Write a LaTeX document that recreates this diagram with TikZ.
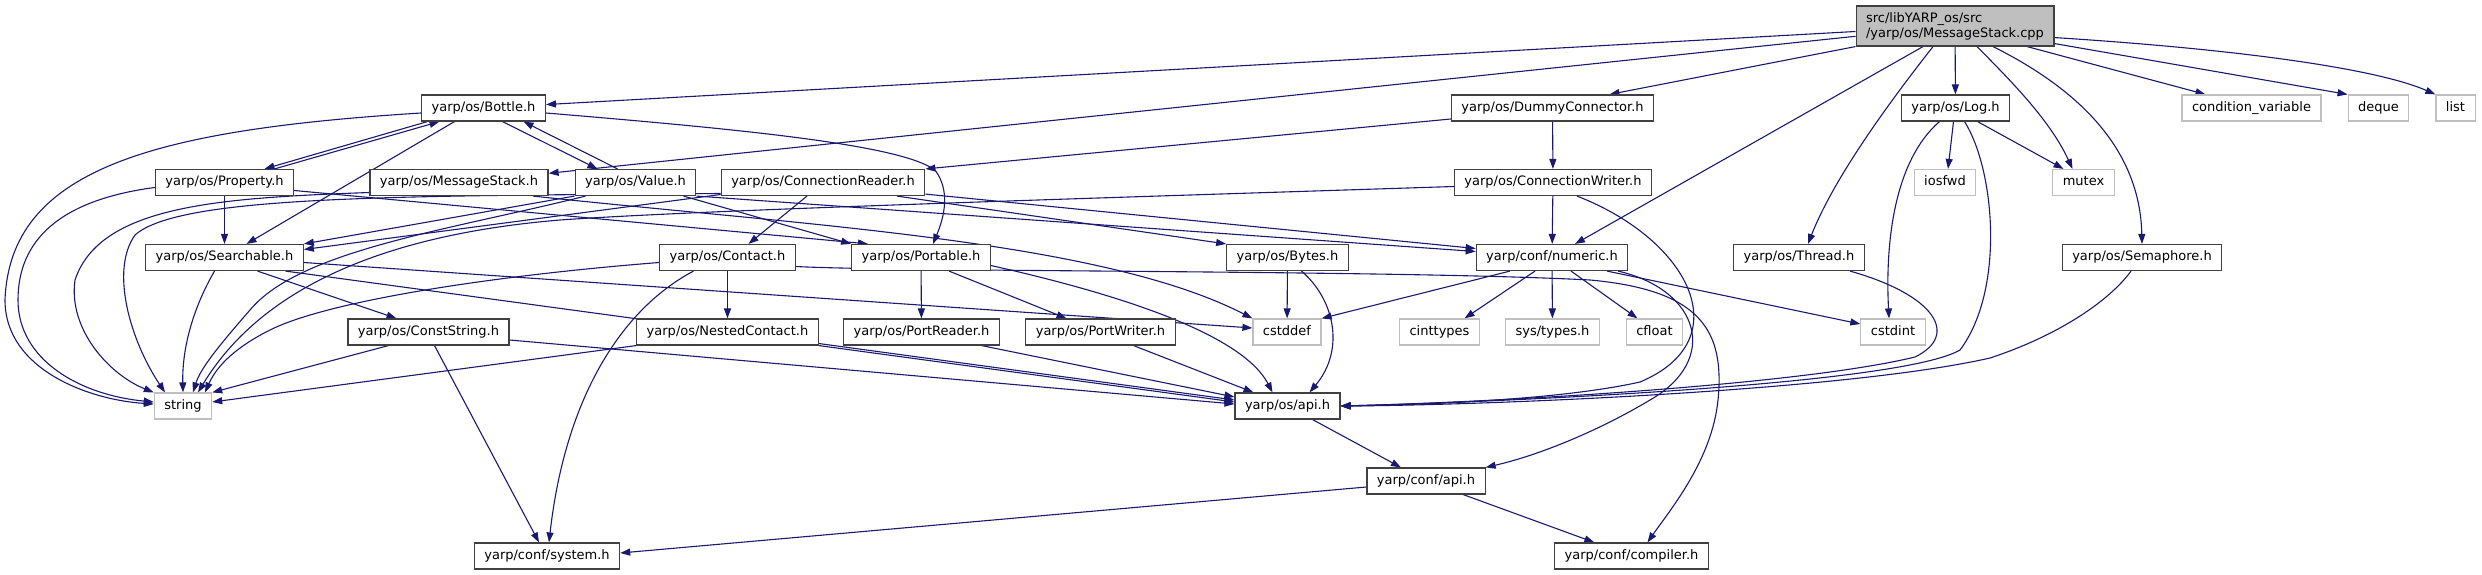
\documentclass[tikz,border=0pt]{standalone}
\usepackage{fontspec}
\setmainfont{DejaVu Sans}
\usetikzlibrary{arrows.meta}
\definecolor{edgeblue}{HTML}{191970}
\definecolor{boxline}{HTML}{404040}
\definecolor{sysline}{HTML}{BFBFBF}
\definecolor{rootfill}{HTML}{BFBFBF}
\pgfdeclarelayer{edges}
\pgfsetlayers{edges,main}

\begin{document}
\begin{tikzpicture}[x=1pt, y=-1pt, >={Triangle[length=10pt,width=7pt]},
    hdr/.style={draw=boxline, fill=white, line width=1.15pt, rectangle, font=\fontsize{13}{15}\selectfont,
      inner xsep=10pt, inner ysep=0pt, minimum height=26pt, text height=9.5pt, text depth=2.7pt},
    sys/.style={hdr, draw=sysline},
    root/.style={draw=boxline, fill=rootfill, line width=1.15pt, rectangle, align=left,
      font=\fontsize{13}{15}\selectfont, inner xsep=10pt, minimum height=40pt},
    dep/.style={->, color=edgeblue, line width=1.1pt}]

  \useasboundingbox (0,0) rectangle (2482,575);

  % row 0 and 1
  \node[root] (cpp) at (1955,26) {src/libYARP\_os/src\\/yarp/os/MessageStack.cpp};
  \node[hdr] (bottle) at (483.5,108) {yarp/os/Bottle.h};
  \node[hdr] (dummy) at (1552.5,108) {yarp/os/DummyConnector.h};
  \node[hdr] (log) at (1955.5,108) {yarp/os/Log.h};
  \node[sys] (condvar) at (2251.5,108) {condition\_variable};
  \node[sys] (deque) at (2378.5,108) {deque};
  \node[sys] (list) at (2455.5,108) {list};

  % row 2
  \node[hdr] (property) at (224.5,182.5) {yarp/os/Property.h};
  \node[hdr] (msgh) at (459,182.5) {yarp/os/MessageStack.h};
  \node[hdr] (value) at (635.5,182.5) {yarp/os/Value.h};
  \node[hdr] (creader) at (823,182.5) {yarp/os/ConnectionReader.h};
  \node[hdr] (cwriter) at (1553,182.5) {yarp/os/ConnectionWriter.h};
  \node[sys] (iosfwd) at (1945,182.5) {iosfwd};
  \node[sys] (mutex) at (2083.5,182.5) {mutex};

  % row 3
  \node[hdr] (searchable) at (224.5,257.5) {yarp/os/Searchable.h};
  \node[hdr] (contact) at (727.5,257.5) {yarp/os/Contact.h};
  \node[hdr] (portable) at (921,257.5) {yarp/os/Portable.h};
  \node[hdr] (bytes) at (1287.5,257.5) {yarp/os/Bytes.h};
  \node[hdr] (numeric) at (1552,257.5) {yarp/conf/numeric.h};
  \node[hdr] (thread) at (1799,257.5) {yarp/os/Thread.h};
  \node[hdr] (sema) at (2142,257.5) {yarp/os/Semaphore.h};

  % row 4
  \node[hdr] (conststr) at (428.5,332) {yarp/os/ConstString.h};
  \node[hdr] (nested) at (727.5,332) {yarp/os/NestedContact.h};
  \node[hdr] (preader) at (921.5,332) {yarp/os/PortReader.h};
  \node[hdr] (pwriter) at (1100.5,332) {yarp/os/PortWriter.h};
  \node[sys] (cstddef) at (1287,332) {cstddef};
  \node[sys] (cinttypes) at (1439.5,332) {cinttypes};
  \node[sys] (systypes) at (1552.5,332) {sys/types.h};
  \node[sys] (cfloat) at (1654.5,332) {cfloat};
  \node[sys] (cstdint) at (1893,332) {cstdint};

  % rows 5 to 7
  \node[sys] (string) at (183,406) {string};
  \node[hdr] (osapi) at (1287.5,406) {yarp/os/api.h};
  \node[hdr] (confapi) at (1426,481) {yarp/conf/api.h};
  \node[hdr] (system) at (547,556) {yarp/conf/system.h};
  \node[hdr] (compiler) at (1631.5,556) {yarp/conf/compiler.h};

  \begin{pgfonlayer}{edges}
  % MessageStack.cpp
  \draw[dep] (cpp) -- (bottle);
  \draw[dep] (cpp) -- (msgh);
  \draw[dep] (cpp.south west) -- ([xshift=57pt]dummy.north);
  \draw[dep] ([xshift=-32pt]cpp.south) -- ([xshift=23pt]numeric.north);
  \draw[dep] ([xshift=-22pt]cpp.south) .. controls (1895,95) and (1835,175) .. ([xshift=9pt]thread.north);
  \draw[dep] (cpp) -- (log);
  \draw[dep] ([xshift=22pt]cpp.south) .. controls (2010,80) and (2050,120) .. ([xshift=-11pt]mutex.north);
  \draw[dep] ([xshift=38pt]cpp.south) .. controls (2080,90) and (2140,150) .. (sema.north);
  \draw[dep] ([xshift=72pt]cpp.south) -- ([xshift=-46pt]condvar.north);
  \draw[dep] ([yshift=3pt]cpp.south east) -- (deque.north west);
  \draw[dep] ([yshift=9pt]cpp.south east) .. controls (2250,50) and (2380,70) .. (list.north west);

  % Bottle.h
  \draw[dep] ([yshift=-5pt]bottle.west) .. controls (150,130) and (10,170) .. (5,300)
    .. controls (5,370) and (90,400) .. ([yshift=2pt]string.west);
  \draw[dep] ([xshift=-56pt]bottle.south) -- ([xshift=40pt]property.north);
  \draw[dep] ([xshift=-29pt]bottle.south) -- ([xshift=22pt]searchable.north);
  \draw[dep] ([xshift=19pt]bottle.south) -- ([xshift=-38pt]value.north);
  \draw[dep] ([yshift=-5pt]bottle.east) .. controls (750,130) and (900,145) .. (935,170)
    .. controls (950,190) and (945,215) .. ([xshift=12pt]portable.north);

  % Property.h
  \draw[dep] ([xshift=50pt]property.north) -- ([xshift=-44pt]bottle.south);
  \draw[dep] (property) -- (searchable);
  \draw[dep] ([yshift=-5pt]property.west) .. controls (60,200) and (18,240) .. (18,300)
    .. controls (18,360) and (80,395) .. ([yshift=4pt]string.west);
  \draw[dep] ([yshift=-8pt]property.east) -- ([xshift=-53pt]portable.north);

  % MessageStack.h
  \draw[dep] ([yshift=-10pt]msgh.west) .. controls (220,198) and (100,205) .. (75,280)
    .. controls (68,330) and (110,375) .. (string.north west);
  \draw[dep] ([xshift=74pt]msgh.south) .. controls (800,225) and (1100,240) .. (cstddef.north west);

  % Value.h
  \draw[dep] ([xshift=-18pt]value.north) -- ([xshift=40pt]bottle.south);
  \draw[dep] (value.south west) -- (searchable.north east);
  \draw[dep] ([xshift=48pt]value.south) -- (portable.north west);
  \draw[dep] (value.south east) -- ([yshift=6pt]numeric.west);
  \draw[dep] ([xshift=-50pt]value.south) .. controls (450,230) and (300,250) .. (250,310)
    .. controls (215,350) and (200,370) .. ([xshift=10pt]string.north);

  % ConnectionReader.h
  \draw[dep] ([xshift=-16pt]creader.south) -- ([xshift=21pt]contact.north);
  \draw[dep] ([yshift=-12pt]creader.west) -- ([yshift=8pt]searchable.east);
  \draw[dep] ([xshift=74pt]creader.south) -- (bytes.north west);
  \draw[dep] ([yshift=2pt]creader.south east) -- ([yshift=9pt]numeric.west);
  \draw[dep] ([yshift=-11pt]creader.west) .. controls (400,196) and (180,195) .. (135,235)
    .. controls (110,270) and (130,340) .. ([xshift=-18pt]string.north);

  % Contact.h
  \draw[dep] ([yshift=-5pt]contact.west) .. controls (500,275) and (330,300) .. (270,330)
    .. controls (230,350) and (215,370) .. ([xshift=22pt]string.north);
  \draw[dep] (contact) -- (nested);
  \draw[dep] ([xshift=-34pt]contact.south) .. controls (620,310) and (565,400) .. ([xshift=2pt]system.north);
  \draw[dep] ([yshift=-9pt]contact.east) .. controls (900,272) and (1400,270) .. (1590,280)
    .. controls (1700,290) and (1725,330) .. (1718,400)
    .. controls (1712,460) and (1670,510) .. ([xshift=16pt]compiler.north);

  % Searchable.h and ConstString.h
  \draw[dep] ([xshift=-10pt]searchable.south) .. controls (192,310) and (182,350) .. (string.north);
  \draw[dep] ([xshift=33pt]searchable.south) -- ([xshift=-32pt]conststr.north);
  \draw[dep] ([xshift=61pt]searchable.south) -- ([yshift=6pt]osapi.west);
  \draw[dep] ([yshift=-5pt]searchable.east) -- ([yshift=4pt]cstddef.west);
  \draw[dep] ([xshift=-40pt]conststr.south) -- (string.north east);
  \draw[dep] ([xshift=6pt]conststr.south) -- ([xshift=-8pt]system.north);
  \draw[dep] ([yshift=-8pt]conststr.east) -- ([yshift=2pt]osapi.west);

  % NestedContact.h
  \draw[dep] (nested.south west) -- ([yshift=4pt]string.east);
  \draw[dep] (nested.south east) -- ([yshift=4pt]osapi.west);

  % Portable.h, PortReader.h, PortWriter.h
  \draw[dep] (portable) -- (preader);
  \draw[dep] ([xshift=28pt]portable.south) -- ([xshift=-34pt]pwriter.north);
  \draw[dep] ([yshift=-8pt]portable.east) .. controls (1100,290) and (1240,330) .. ([xshift=-15pt]osapi.north);
  \draw[dep] ([xshift=60pt]preader.south) -- ([yshift=9pt]osapi.west);
  \draw[dep] ([xshift=33pt]pwriter.south) -- ([xshift=-34pt]osapi.north);

  % Bytes.h
  \draw[dep] (bytes) -- (cstddef);
  \draw[dep] ([xshift=14pt]bytes.south) .. controls (1335,300) and (1345,350) .. ([xshift=22pt]osapi.north);

  % numeric.h
  \draw[dep] ([xshift=-42pt]numeric.south) -- (cstddef.north east);
  \draw[dep] ([xshift=-17pt]numeric.south) -- ([xshift=25pt]cinttypes.north);
  \draw[dep] (numeric) -- (systypes);
  \draw[dep] ([xshift=19pt]numeric.south) -- ([xshift=-17pt]cfloat.north);
  \draw[dep] ([xshift=55pt]numeric.south) -- ([yshift=8pt]cstdint.west);
  \draw[dep] ([xshift=66pt]numeric.south) .. controls (1700,290) and (1720,360) .. (1650,400)
    .. controls (1600,430) and (1540,455) .. (confapi.north east);

  % DummyConnector.h and ConnectionWriter.h
  \draw[dep] ([yshift=-11pt]dummy.west) -- (creader.north east);
  \draw[dep] (dummy) -- (cwriter);
  \draw[dep] (cwriter) -- (numeric);
  \draw[dep] ([yshift=-4pt]cwriter.west) .. controls (1100,198) and (700,210) .. (560,220)
    .. controls (380,235) and (260,290) .. ([xshift=15pt]string.north);
  \draw[dep] ([xshift=24pt]cwriter.south) .. controls (1690,240) and (1740,340) .. (1640,382)
    .. controls (1560,400) and (1420,405) .. (osapi.east);

  % Log.h, Thread.h, Semaphore.h
  \draw[dep] ([xshift=-2pt]log.south) -- ([xshift=3pt]iosfwd.north);
  \draw[dep] ([xshift=22pt]log.south) -- ([xshift=-20pt]mutex.north);
  \draw[dep] ([xshift=-16pt]log.south) .. controls (1895,160) and (1885,240) .. ([xshift=-4pt]cstdint.north);
  \draw[dep] ([xshift=9pt]log.south) .. controls (1995,170) and (2005,290) .. (1960,350)
    .. controls (1900,385) and (1500,402) .. (osapi.east);
  \draw[dep] ([xshift=51pt]thread.south) .. controls (1935,295) and (1960,335) .. (1915,357)
    .. controls (1800,385) and (1500,402) .. (osapi.east);
  \draw[dep] ([xshift=-11pt]sema.south) .. controls (2110,300) and (2060,335) .. (1990,358)
    .. controls (1850,390) and (1500,405) .. (osapi.east);

  % api headers
  \draw[dep] (osapi) -- (confapi);
  \draw[dep] ([yshift=-6pt]confapi.west) -- ([yshift=3pt]system.east);
  \draw[dep] (confapi) -- (compiler);
  \end{pgfonlayer}
\end{tikzpicture}
\end{document}
